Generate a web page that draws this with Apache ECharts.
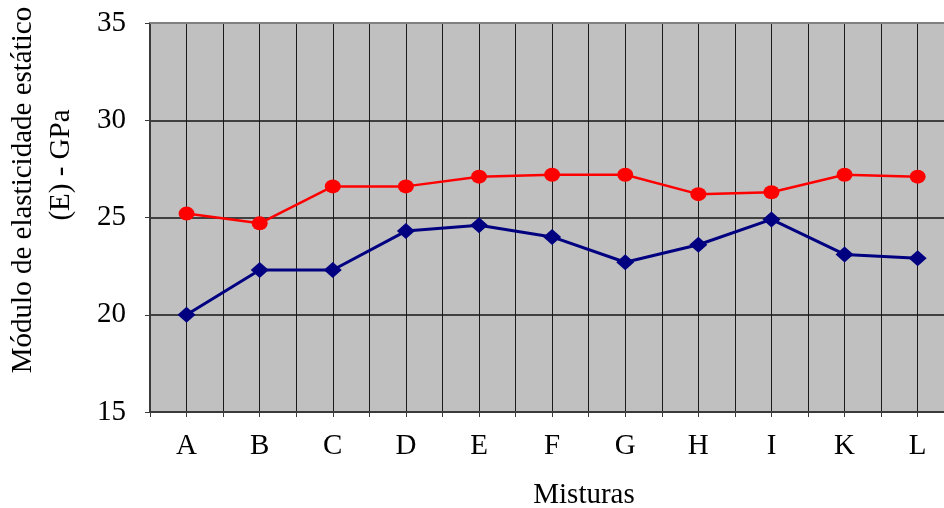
<!DOCTYPE html>
<html>
<head>
<meta charset="utf-8">
<script src="https://cdn.jsdelivr.net/npm/echarts@6/dist/echarts.min.js"></script>
<style>
  html, body { margin: 0; padding: 0; background: #fff; }
  #chart { width: 944px; height: 508px; }
</style>
</head>
<body>
<div id="chart"></div>
<script>
// Misturas (mixes) along the x axis
const categories = ['A', 'B', 'C', 'D', 'E', 'F', 'G', 'H', 'I', 'K', 'L'];
// Static elastic modulus, GPa
const redSeries = [25.2, 24.7, 26.6, 26.6, 27.1, 27.2, 27.2, 26.2, 26.3, 27.2, 27.1];
const blueSeries = [20.0, 22.3, 22.3, 24.3, 24.6, 24.0, 22.7, 23.6, 24.9, 23.1, 22.9];
const yTicks = { min: 15, max: 35, step: 5 };

const FONT = '"Liberation Serif", "DejaVu Serif", serif';
const chart = echarts.init(document.getElementById('chart'), null, { renderer: 'canvas' });

const toPoints = vals => vals.map((v, i) => [i, v]);
// The plot runs past the right edge of the page: the last category box is cut off there.
const xMin = -0.5;
const xMax = 10.36;

chart.setOption({
  animation: false,
  backgroundColor: '#ffffff',
  grid: {
    left: 150, top: 23, right: 0, height: 389,
    show: true, backgroundColor: '#C0C0C0', borderWidth: 0
  },
  xAxis: [
    {
      type: 'value', min: xMin, max: xMax, interval: 0.5,
      axisLine: { show: true, onZero: false, lineStyle: { color: '#3a3a3a', width: 2 } },
      axisTick: { show: true, length: 5, lineStyle: { color: '#3a3a3a', width: 1 } },
      axisLabel: {
        margin: 20, color: '#000', fontFamily: FONT, fontSize: 29, showMaxLabel: false,
        formatter: v => Number.isInteger(v) ? categories[v] : ''
      },
      splitLine: { show: true, showMaxLine: false, lineStyle: { color: '#1a1a1a', width: 1 } }
    },
    {
      // top frame of the plot area
      type: 'value', position: 'top', min: xMin, max: xMax, interval: 0.5,
      axisLine: { show: true, onZero: false, lineStyle: { color: '#808080', width: 2 } },
      axisTick: { show: false }, axisLabel: { show: false }, splitLine: { show: false }
    }
  ],
  yAxis: {
    type: 'value',
    min: yTicks.min, max: yTicks.max, interval: yTicks.step,
    axisLine: { show: true, onZero: false, lineStyle: { color: '#3a3a3a', width: 2 } },
    axisTick: { show: true, length: 5, lineStyle: { color: '#3a3a3a', width: 1 } },
    axisLabel: { margin: 24, color: '#000', fontFamily: FONT, fontSize: 29 },
    splitLine: { show: true, showMaxLine: false, lineStyle: { color: '#404040', width: 2 } }
  },
  graphic: [
    {
      type: 'text', x: 23, y: 190, rotation: Math.PI / 2,
      style: { text: 'Módulo de elasticidade estático', fill: '#000', font: '29px ' + FONT,
               textAlign: 'center', textVerticalAlign: 'middle' }
    },
    {
      type: 'text', x: 61, y: 165, rotation: Math.PI / 2,
      style: { text: '(E) - GPa', fill: '#000', font: '29px ' + FONT,
               textAlign: 'center', textVerticalAlign: 'middle' }
    },
    {
      type: 'text', x: 584, y: 495,
      style: { text: 'Misturas', fill: '#000', font: '29px ' + FONT,
               textAlign: 'center', textVerticalAlign: 'middle' }
    }
  ],
  series: [
    {
      type: 'line', data: toPoints(redSeries),
      symbol: 'circle', symbolSize: [16, 14],
      lineStyle: { color: '#FF0000', width: 2.5 },
      itemStyle: { color: '#FF0000' }
    },
    {
      type: 'line', data: toPoints(blueSeries),
      symbol: 'diamond', symbolSize: [18, 16],
      lineStyle: { color: '#000080', width: 3 },
      itemStyle: { color: '#000080' }
    }
  ]
});
</script>
</body>
</html>
